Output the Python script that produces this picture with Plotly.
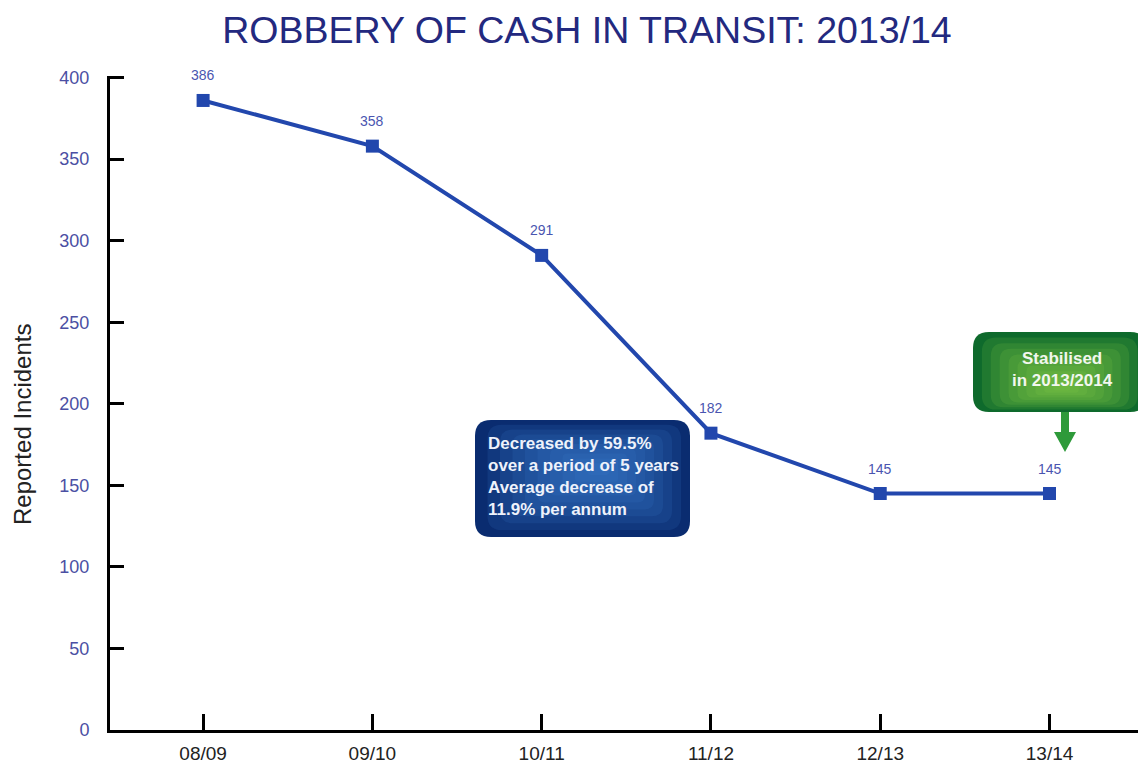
import plotly.graph_objects as go

categories = ["08/09", "09/10", "10/11", "11/12", "12/13", "13/14"]
incidents = [386, 358, 291, 182, 145, 145]
y_ticks = [0, 50, 100, 150, 200, 250, 300, 350, 400]

title_text = "ROBBERY OF CASH IN TRANSIT: 2013/14"
y_title = "Reported Incidents"
blue_note = "Decreased by 59.5%<br>over a period of 5 years<br>Average decrease of<br>11.9% per annum"
green_note = "Stabilised<br>in 2013/2014"

OFF = 8  # page body margin
W, H = 1146 - OFF, 773 - OFF
ML, MR, MT, MB = 110 - OFF, 0, 76 - OFF, 43
PW, PH = W - ML - MR, H - MT - MB
FONT = "Liberation Sans, Arial"

def px(x):
    return (x - OFF - ML) / PW

def py(y):
    return (H - MB - (y - OFF)) / PH

def rrect(x0, y0, x1, y1, r):
    rx, ry = r / PW, r / PH
    X0, X1 = px(x0), px(x1)
    Y0, Y1 = py(y1), py(y0)
    return (f"M {X0+rx},{Y0} L {X1-rx},{Y0} Q {X1},{Y0} {X1},{Y0+ry} "
            f"L {X1},{Y1-ry} Q {X1},{Y1} {X1-rx},{Y1} L {X0+rx},{Y1} "
            f"Q {X0},{Y1} {X0},{Y1-ry} L {X0},{Y0+ry} Q {X0},{Y0} {X0+rx},{Y0} Z")

fig = go.Figure()
fig.add_trace(go.Scatter(
    x=categories, y=incidents, mode="lines+markers",
    line=dict(color="#2247ad", width=4),
    marker=dict(symbol="square", size=13, color="#2247ad"),
    hoverinfo="skip", showlegend=False,
))

for c, v in zip(categories, incidents):
    fig.add_annotation(x=c, y=v, text=str(v), showarrow=False, yshift=25,
                       font=dict(family=FONT, size=14, color="#4a55b0"))

shapes = []

def glow_box(x0, y0, x1, y1, base, glow, cx, cy, n=9):
    shapes.append(dict(type="path", xref="paper", yref="paper", path=rrect(x0, y0, x1, y1, 16),
                       fillcolor=base, line=dict(width=0), layer="above"))
    for i in range(1, n + 1):
        t = i / (n + 1)
        a0, b0 = x0 + (cx - x0) * t, y0 + (cy - y0) * t
        a1, b1 = x1 + (cx - x1) * t, y1 + (cy - y1) * t
        shapes.append(dict(type="path", xref="paper", yref="paper",
                           path=rrect(a0, b0, a1, b1, max(3, 16 * (1 - t))),
                           fillcolor=glow, opacity=0.15, line=dict(width=0), layer="above"))

glow_box(475, 420, 690, 537, "#0a2c70", "#3b7fd0", 600, 468)
glow_box(973, 332, 1146, 412, "#0e6a2c", "#8fcd4c", 1062, 388)

ax = 1065
arrow = (f"M {px(ax-4)},{py(412)} L {px(ax+4)},{py(412)} L {px(ax+4)},{py(432)} "
         f"L {px(ax+11)},{py(432)} L {px(ax)},{py(452)} L {px(ax-11)},{py(432)} "
         f"L {px(ax-4)},{py(432)} Z")
shapes.append(dict(type="path", xref="paper", yref="paper", path=arrow,
                   fillcolor="#2e9a3a", line=dict(width=0), layer="above"))

fig.add_annotation(xref="paper", yref="paper", x=px(486), y=py(476), xanchor="left", yanchor="middle",
                   text=blue_note, showarrow=False, align="left",
                   font=dict(family=FONT, size=17, color="#eef2fb", weight="bold"))
fig.add_annotation(xref="paper", yref="paper", x=px(1062), y=py(369), xanchor="center", yanchor="middle",
                   text=green_note, showarrow=False, align="center",
                   font=dict(family=FONT, size=17, color="#f2f7ee", weight="bold"))
fig.add_annotation(xref="paper", yref="paper", x=px(22), y=py(425), xanchor="center", yanchor="middle",
                   text=y_title, showarrow=False, textangle=-90,
                   font=dict(family=FONT, size=24, color="#222222"))

fig.update_layout(
    width=W, height=H,
    margin=dict(l=ML, r=MR, t=MT, b=MB),
    paper_bgcolor="white", plot_bgcolor="white",
    title=dict(text=title_text, x=(587 - OFF) / W, xanchor="center", y=1 - (30 - OFF) / H, yanchor="middle",
               font=dict(family=FONT, size=37.5, color="#23297f")),
    shapes=shapes,
    xaxis=dict(type="category", range=[-0.55, 5.57], showgrid=False, zeroline=False,
               showline=True, linecolor="black", linewidth=3,
               ticks="inside", ticklen=16, tickwidth=3, tickcolor="black",
               tickfont=dict(family=FONT, size=19, color="#222222"),
               ticklabelstandoff=4),
    yaxis=dict(range=[0, 401], tickvals=y_ticks, showgrid=False, zeroline=False,
               showline=True, linecolor="black", linewidth=3,
               ticks="inside", ticklen=14, tickwidth=3, tickcolor="black",
               tickfont=dict(family=FONT, size=18, color="#4b4fa3"),
               ticklabelstandoff=14),
)

fig.write_html("out.html")
